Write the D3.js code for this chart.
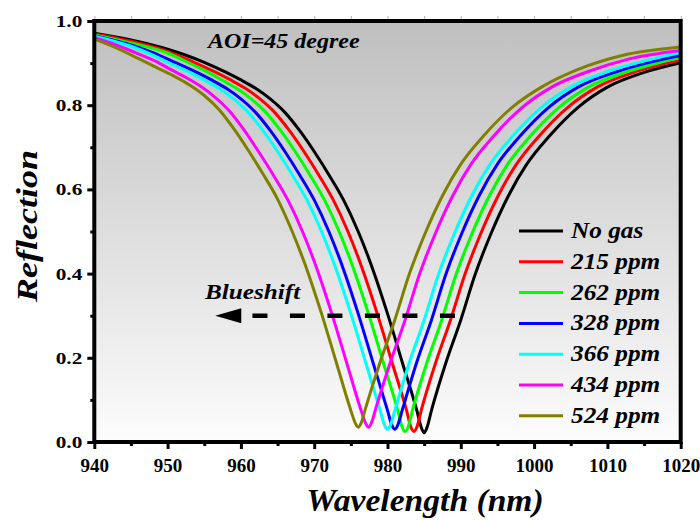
<!DOCTYPE html>
<html>
<head>
<meta charset="utf-8">
<script src="https://cdn.jsdelivr.net/npm/d3@7"></script>
<style>
  html, body { margin: 0; padding: 0; background: #ffffff; }
  svg { display: block; }
</style>
</head>
<body>
<svg id="chart" width="700" height="520"></svg>
<script>
// Reflection spectra at AOI = 45 degree for increasing gas concentration
const seriesNames = ["No gas", "215 ppm", "262 ppm", "328 ppm", "366 ppm", "434 ppm", "524 ppm"];
const seriesColors = ["#000000", "#ff0000", "#00ff00", "#0000ff", "#00ffff", "#ff00ff", "#808000"];

// [wavelength (nm), reflection]
const noGas = [[940,.971],[945,.955],[950,.933],[955,.902],[958,.878],[960,.86],[962,.84],[964,.815],[966,.783],[968,.74],[970,.69],[972,.635],[974,.575],[976,.50],[978,.41],[980,.305],[982,.19],[984,.075],[984.6,.035],[985,.022],[985.4,.035],[986,.075],[988,.19],[990,.29],[992,.40],[994,.49],[996.5,.585],[999,.66],[1002,.725],[1006,.795],[1010,.843],[1015,.878],[1020,.901]];
const ppm215 = [[940,.969],[945,.952],[950,.928],[953.6,.902],[956.6,.878],[958.6,.86],[960.6,.84],[962.6,.815],[964.6,.783],[966.6,.74],[968.6,.69],[970.6,.635],[972.6,.575],[974.6,.50],[976.6,.41],[978.6,.305],[980.6,.19],[982.6,.075],[983.2,.035],[983.6,.025],[984,.035],[984.6,.075],[986.6,.19],[988.6,.29],[990.6,.40],[992.6,.49],[995.1,.585],[997.6,.66],[1000.6,.725],[1004.6,.795],[1008.6,.843],[1013.6,.878],[1020,.907]];
const ppm262 = [[940,.967],[945,.948],[950,.924],[952.4,.905],[955.4,.879],[957.4,.86],[959.4,.84],[961.4,.815],[963.4,.783],[965.4,.74],[967.4,.69],[969.4,.635],[971.4,.575],[973.4,.50],[975.4,.41],[977.4,.305],[979.4,.19],[981.4,.075],[982,.035],[982.4,.025],[982.8,.035],[983.4,.075],[985.4,.19],[987.4,.29],[989.4,.40],[991.4,.49],[993.9,.585],[996.4,.66],[999.4,.725],[1003.4,.795],[1007.4,.843],[1012.4,.878],[1017,.901],[1020,.913]];
const ppm328 = [[940,.965],[945,.943],[948,.925],[951,.902],[954,.878],[956,.86],[958,.84],[960,.815],[962,.783],[964,.74],[966,.69],[968,.635],[970,.575],[972,.50],[974,.41],[976,.305],[978,.19],[980,.075],[980.6,.04],[981,.03],[981.4,.04],[982,.075],[984,.19],[986,.29],[988,.40],[990,.49],[992.5,.585],[995,.66],[998,.725],[1002,.795],[1006,.843],[1011,.878],[1016,.903],[1020,.918]];
const ppm366 = [[940,.964],[945,.94],[948,.919],[950,.902],[953,.878],[955,.86],[957,.84],[959,.815],[961,.783],[963,.74],[965,.69],[967,.635],[969,.575],[971,.50],[973,.41],[975,.305],[977,.19],[979,.075],[979.6,.04],[980,.03],[980.4,.04],[981,.075],[983,.19],[985,.29],[987,.40],[989,.49],[991.5,.585],[994,.66],[997,.725],[1001,.795],[1005,.843],[1010,.880],[1015,.905],[1020,.925]];
const ppm434 = [[940,.961],[943,.943],[946,.922],[948.4,.904],[950.4,.885],[952.4,.867],[954.4,.846],[956.4,.82],[958.4,.787],[960.4,.742],[962.4,.69],[964.4,.635],[966.4,.575],[968.4,.50],[970.4,.41],[972.4,.305],[974.4,.19],[976.4,.075],[977,.045],[977.4,.035],[977.8,.045],[978.4,.08],[980.4,.19],[982.4,.29],[984.4,.40],[986.4,.49],[988.9,.585],[991.4,.66],[994.4,.725],[998.4,.795],[1002.4,.843],[1007.4,.880],[1013,.910],[1020,.930]];
const ppm524 = [[940,.957],[943,.936],[946,.911],[949,.885],[951,.868],[953,.848],[955,.823],[957,.79],[959,.745],[961,.693],[963,.637],[965,.577],[967,.50],[969,.41],[971,.305],[973,.19],[975,.075],[975.6,.045],[976,.035],[976.4,.045],[977,.08],[979,.19],[981,.29],[983,.40],[985,.49],[987.5,.585],[990,.66],[993,.725],[997,.795],[1001,.843],[1006,.885],[1012,.918],[1020,.938]];
const seriesData = [noGas, ppm215, ppm262, ppm328, ppm366, ppm434, ppm524];

const xTicks = [940, 950, 960, 970, 980, 990, 1000, 1010, 1020];
const yTicks = [0.0, 0.2, 0.4, 0.6, 0.8, 1.0];
const xMinorTicks = [945, 955, 965, 975, 985, 995, 1005, 1015];
const yMinorTicks = [0.1, 0.3, 0.5, 0.7, 0.9];
const arrowFrom = [989.2, 0.3];
const arrowTo = [956.5, 0.3];

const serif = "'Liberation Serif', 'Times New Roman', Tinos, Times, 'Nimbus Roman', 'DejaVu Serif', serif";

const svg = d3.select("#chart");
const plotLeft = 94.3, plotRight = 680.7, plotTop = 21, plotBottom = 442;

const x = d3.scaleLinear().domain([940, 1020]).range([plotLeft, plotRight]);
const y = d3.scaleLinear().domain([0, 1]).range([plotBottom, plotTop]);

// plot background gradient
const defs = svg.append("defs");
const grad = defs.append("linearGradient").attr("id", "bg").attr("x1", 0).attr("y1", 0).attr("x2", 0).attr("y2", 1);
grad.append("stop").attr("offset", "0%").attr("stop-color", "#bfbfbf");
grad.append("stop").attr("offset", "100%").attr("stop-color", "#fcfcfc");
defs.append("clipPath").attr("id", "clip").append("rect")
  .attr("x", plotLeft).attr("y", plotTop).attr("width", plotRight - plotLeft).attr("height", plotBottom - plotTop);

svg.append("rect").attr("x", plotLeft).attr("y", plotTop)
  .attr("width", plotRight - plotLeft).attr("height", plotBottom - plotTop)
  .attr("fill", "url(#bg)");

// spectra
const line = d3.line().x(d => x(d[0])).y(d => y(d[1])).curve(d3.curveMonotoneX);
svg.append("g").attr("clip-path", "url(#clip)")
  .selectAll("path").data(seriesData).join("path")
  .attr("d", line)
  .attr("fill", "none")
  .attr("stroke", (d, i) => seriesColors[i])
  .attr("stroke-width", 3)
  .attr("stroke-linejoin", "round");

// axes
const xAxis = svg.append("g").attr("transform", `translate(0,${plotBottom})`)
  .call(d3.axisBottom(x).tickValues(xTicks).tickSize(7).tickPadding(10).tickFormat(d3.format("d")));
const xMinor = svg.append("g").attr("transform", `translate(0,${plotBottom})`)
  .call(d3.axisBottom(x).tickValues(xMinorTicks).tickSize(4).tickFormat(""));
const yAxis = svg.append("g").attr("transform", `translate(${plotLeft},0)`)
  .call(d3.axisLeft(y).tickValues(yTicks).tickSize(7).tickPadding(5).tickFormat(d3.format(".1f")));
const yMinor = svg.append("g").attr("transform", `translate(${plotLeft},0)`)
  .call(d3.axisLeft(y).tickValues(yMinorTicks).tickSize(4).tickFormat(""));
// faint ticks along the top edge
const xTop = svg.append("g").attr("transform", `translate(0,${plotTop - 2})`)
  .call(d3.axisTop(x).tickValues(xTicks.concat(xMinorTicks)).tickSize(3).tickFormat(""));

[xAxis, xMinor, yAxis, yMinor].forEach(g => {
  g.select(".domain").remove();
  g.selectAll(".tick line").attr("stroke", "#000").attr("stroke-width", 3);
});
xTop.select(".domain").remove();
xTop.selectAll(".tick line").attr("stroke", "#b0b0b0").attr("stroke-width", 1);

xAxis.selectAll(".tick text")
  .style("font-family", serif).style("font-weight", "bold").style("font-size", "19px")
  .attr("fill", "#000");
yAxis.selectAll(".tick text")
  .style("font-family", serif).style("font-weight", "bold").style("font-size", "17px")
  .attr("fill", "#000")
  .attr("x", 0)
  .attr("transform", "translate(-12,0) scale(1.25,1)");

// frame
svg.append("rect").attr("x", plotLeft).attr("y", plotTop)
  .attr("width", plotRight - plotLeft).attr("height", plotBottom - plotTop)
  .attr("fill", "none").attr("stroke", "#000").attr("stroke-width", 4);

// stretched bold italic label helper
function label(txt, px, py, size, anchor, rot, sx) {
  return svg.append("text")
    .attr("transform", `translate(${px},${py}) rotate(${rot}) scale(${sx},1)`)
    .attr("text-anchor", anchor)
    .style("font-family", serif)
    .style("font-size", size + "px")
    .style("font-style", "italic")
    .style("font-weight", "bold")
    .attr("fill", "#000")
    .text(txt);
}

label("Wavelength (nm)", 425, 511, 32, "middle", 0, 1.05);
label("Reflection", 37, 226, 30, "middle", -90, 1.2);
label("AOI=45 degree", 208, 48, 20, "start", 0, 1.2);
label("Blueshift", 205, 299, 21, "start", 0, 1.2);

// blueshift arrow
const arrowBase = x(arrowTo[0]) + 26;
svg.append("line")
  .attr("x1", x(arrowFrom[0])).attr("y1", y(arrowFrom[1]))
  .attr("x2", arrowBase).attr("y2", y(arrowTo[1]))
  .attr("stroke", "#000").attr("stroke-width", 4.5)
  .attr("stroke-dasharray", "15,22.5");
svg.append("path")
  .attr("d", `M${x(arrowTo[0])},${y(arrowTo[1])} L${arrowBase},${y(arrowTo[1]) - 7.5} L${arrowBase},${y(arrowTo[1]) + 7.5} Z`)
  .attr("fill", "#000");

// legend
const legend = svg.append("g").attr("transform", "translate(519,231)");
const rows = legend.selectAll("g").data(seriesNames).join("g")
  .attr("transform", (d, i) => `translate(0,${i * 30.8})`);
rows.append("line").attr("x1", 0).attr("x2", 44).attr("y1", 0).attr("y2", 0)
  .attr("stroke", (d, i) => seriesColors[i]).attr("stroke-width", 3);
rows.append("text")
  .attr("transform", "translate(52,7) scale(1.1,1)")
  .style("font-family", serif)
  .style("font-size", "23px")
  .style("font-style", "italic")
  .style("font-weight", "bold")
  .attr("fill", "#000")
  .text(d => d);
</script>
</body>
</html>
